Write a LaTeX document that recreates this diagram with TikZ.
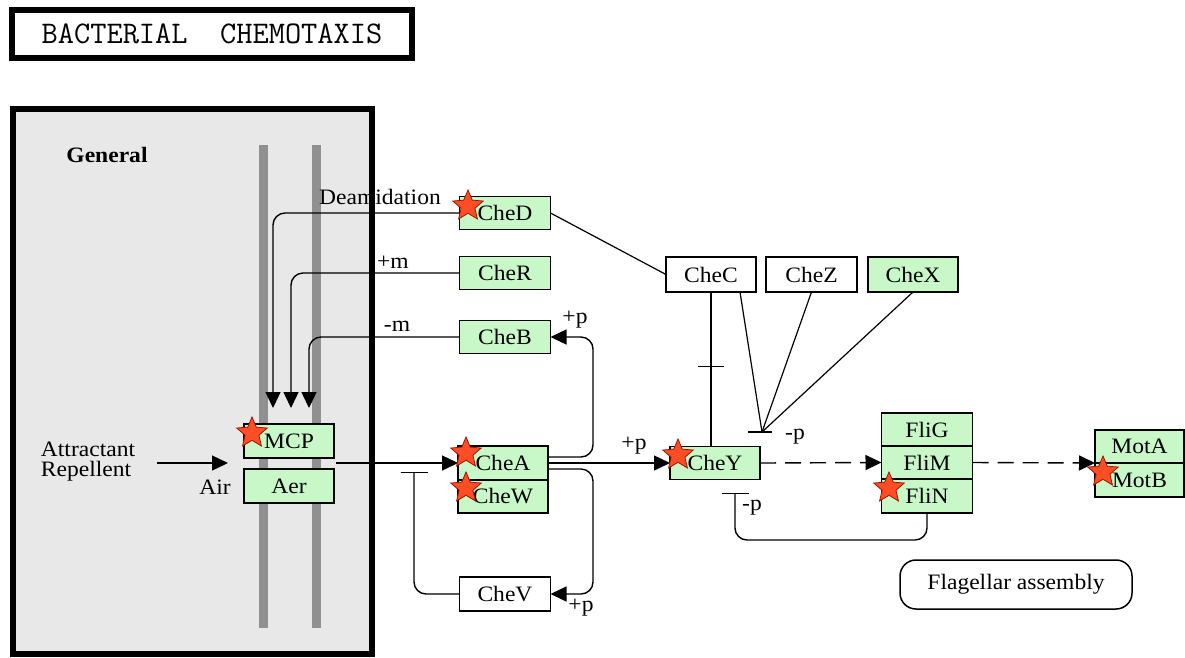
\documentclass[tikz,border=0pt]{standalone}
\usepackage{fontspec}
\setmainfont[FakeStretch=1.07]{Liberation Serif}
\usepackage{xcolor}
\usetikzlibrary{arrows.meta, shapes.geometric, positioning, calc}

\definecolor{keggreen}{RGB}{200,248,200}
\definecolor{panelgray}{RGB}{232,232,232}
\definecolor{bargray}{RGB}{144,144,144}
\definecolor{starfill}{RGB}{255,77,38}
\definecolor{starline}{RGB}{160,20,0}

\tikzset{
  gene/.style={draw, line width=1.5pt, fill=keggreen, minimum width=91pt,
    minimum height=34pt, inner sep=0pt, outer sep=0pt},
  ortho/.style={gene, fill=white},
  hit/.style={star, star points=5, star point ratio=2.2, draw=starline,
    fill=starfill, line width=0.8pt, minimum size=32pt, inner sep=0pt},
  act/.style={line width=1.4pt, -{Triangle[length=16pt,width=15pt]}},
  inh/.style={line width=1.4pt, -{Bar[width=27pt]}},
  link/.style={line width=1.2pt},
}

\begin{document}
\begin{tikzpicture}[x=1pt, y=-1pt, font=\fontsize{22}{20}\selectfont]
  \useasboundingbox (0,0) rectangle (1185,657);
  % title
  \node[draw, line width=5.5pt, minimum width=400pt, minimum height=48pt,
    font=\ttfamily\fontsize{31.5}{31.5}\selectfont] (title) at (212,34)
    {BACTERIAL\ \ CHEMOTAXIS};
  % general panel with membrane
  \fill[panelgray] (13,109) rectangle (372,654);
  \node[font=\bfseries\fontsize{22}{22}\selectfont] (general) at (107,155) {General};
  \fill[bargray] (259,145) rectangle (268,628);
  \fill[bargray] (312,145) rectangle (321,628);
  % labels
  \node (lDeam) at (380,197) {Deamidation};
  \node (lPlusM) at (393,262) {+m};
  \node (lMinusM) at (397,326) {-m};
  \node (lpB) at (575,320) {+p};
  \node (lpY) at (634,446) {+p};
  \node (lpV) at (581,608) {+p};
  \node (lmpZ) at (795,437) {-p};
  \node (lmpN) at (752,508) {-p};
  \node[align=left] (ligand) at (88,462) {Attractant\\Repellent};
  \node (air) at (215,487) {Air};
  % receptors
  \node[gene, minimum width=90pt] (MCP) at (289,441) {MCP};
  \node[gene, minimum width=90pt] (Aer) at (289,486) {Aer};
  % adaptation enzymes
  \node[gene, minimum height=33pt] (CheD) at (505,213) {CheD};
  \node[gene, minimum height=33pt] (CheR) at (505,273) {CheR};
  \node[gene, minimum height=33pt] (CheB) at (505,337) {CheB};
  % kinase complex
  \node[gene, minimum width=90pt] (CheA) at (503,463) {CheA};
  \node[gene, minimum width=90pt, minimum height=33pt, below=0pt of CheA] (CheW) {CheW};
  \node[ortho] (CheV) at (505,594) {CheV};
  % phosphatases
  \node[ortho, minimum width=90pt, minimum height=35pt] (CheC) at (711,274.5) {CheC};
  \node[ortho, minimum height=35pt] (CheZ) at (811.5,274.5) {CheZ};
  \node[gene, minimum width=90pt, minimum height=35pt] (CheX) at (913,274.5) {CheX};
  \node[gene, minimum width=90pt, minimum height=33pt] (CheY) at (715,463) {CheY};
  % motor switch
  \node[gene, minimum height=33pt] (FliG) at (927,429.5) {FliG};
  \node[gene, minimum height=33pt, below=0pt of FliG] (FliM) {FliM};
  \node[gene, minimum height=34pt, below=0pt of FliM] (FliN) {FliN};
  \node[gene, minimum width=89pt, minimum height=33pt] (MotA) at (1139.5,446.5) {MotA};
  \node[gene, minimum width=89pt, minimum height=34pt, below=0pt of MotA] (MotB) {MotB};
  \node[draw, rounded corners=16pt, line width=1.5pt, minimum width=232pt,
    minimum height=49pt] (flag) at (1016,584.5) {Flagellar assembly};
  % methylation inputs to MCP
  \coordinate (inD) at (273,408);
  \coordinate (inR) at (291,408);
  \coordinate (inB) at (309,408);
  \draw[act, rounded corners=12pt] (CheD.west) -| (inD);
  \draw[act, rounded corners=12pt] (CheR.west) -| (inR);
  \draw[act, rounded corners=12pt] (CheB.west) -| (inB);
  % signal in, receptor to kinase
  \coordinate (sigA) at (157,463);
  \coordinate (sigB) at (228,463);
  \draw[act] (sigA) -- (sigB);
  \coordinate (rcpt) at (336,463);
  \draw[act] (rcpt) -- (CheA.west);
  % phosphotransfer from CheA
  \coordinate (turnB) at (593,337);
  \coordinate (turnV) at (593,594);
  \draw[act, rounded corners=12pt] ([yshift=6pt]CheA.east) -| (turnB) -- (CheB.east);
  \draw[act, rounded corners=12pt] ([yshift=-6pt]CheA.east) -| (turnV) -- (CheV.east);
  \draw[act] (CheA.east) -- (CheY.west);
  % CheV back onto the receptor line
  \coordinate (vBar) at (414,472);
  \draw[inh, rounded corners=12pt] (CheV.west) -| (vBar);
  % CheD - CheC, CheC - CheY
  \draw[link] (CheD.east) -- (CheC.west);
  \draw[link] (CheC.south) -- coordinate[pos=0.48] (tick) (CheC.south |- CheY.north);
  \draw[link] ([xshift=-13pt]tick) -- ([xshift=13pt]tick);
  % dephosphorylation of CheY-P
  \coordinate (dephos) at (762,432);
  \draw[link] ([xshift=29pt]CheC.south) -- (dephos);
  \draw[link] (CheZ.south) -- (dephos);
  \draw[link] (CheX.south) -- (dephos);
  \draw[link] ([xshift=-14pt]dephos) -- ([xshift=10pt]dephos);
  % to the motor
  \draw[act, dash pattern=on 16pt off 9pt] (CheY.east) -- (FliM.west);
  \draw[act, dash pattern=on 16pt off 9pt] (FliM.east) -- (MotA.south west);
  % FliN feedback
  \coordinate (fbTurn) at (735,540);
  \coordinate (fbBar) at (735,493);
  \draw[inh, rounded corners=12pt] (FliN.south) |- (fbTurn) -- (fbBar);
  % stars
  \node[hit] (sD) at (468,206) {};
  \node[hit] (sMCP) at (252,433) {};
  \node[hit] (sA) at (466,453) {};
  \node[hit] (sW) at (466,488) {};
  \node[hit] (sY) at (678,455) {};
  \node[hit] (sN) at (889,488) {};
  \node[hit] (sMot) at (1103,472) {};
  % panel border on top
  \draw[line width=6pt] (13,109) rectangle (372,654);
\end{tikzpicture}
\end{document}
